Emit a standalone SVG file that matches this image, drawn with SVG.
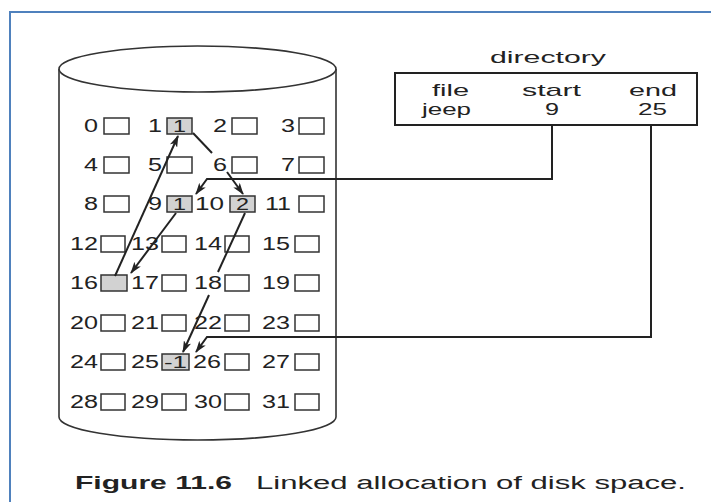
<svg xmlns="http://www.w3.org/2000/svg" width="711" height="502" viewBox="0 0 711 502">
<defs>
<marker id="ah" viewBox="0 0 12 8" refX="11" refY="4" markerWidth="12" markerHeight="8" markerUnits="userSpaceOnUse" orient="auto">
<path d="M0,0 L12,4 L0,8 L3,4 Z" fill="#222"/>
</marker>
<style>
.t{font-family:"Liberation Sans",Arial,sans-serif;fill:#222;}
.n{font-size:18px;}
.d{font-size:17px;}
.b{fill:#fff;stroke:#333;stroke-width:1.5;}
.s{fill:#d2d2d2;stroke:#333;stroke-width:1.5;}
.c{fill:none;stroke:#222;stroke-width:2;}
.cyl{fill:#fff;stroke:#333;stroke-width:1.6;}
</style>
</defs>
<rect x="0" y="0" width="711" height="502" fill="#fff"/>
<rect x="10" y="12" width="720" height="520" fill="none" stroke="#4f81bd" stroke-width="2"/>

<g id="disk">
<path class="cyl" d="M59,69 V417 A138.5,23 0 0 0 336,417 V69"/>
<ellipse class="cyl" cx="197.5" cy="69" rx="138.5" ry="23"/>
</g>

<g id="blocks">
<!-- row 0 -->
<g id="b0"><text class="t n" x="84" y="132" textLength="14" lengthAdjust="spacingAndGlyphs">0</text><rect class="b" x="104" y="118" width="25" height="16"/></g>
<g id="b1"><text class="t n" x="148" y="132" textLength="14" lengthAdjust="spacingAndGlyphs">1</text><rect class="s" x="167" y="118" width="25" height="16"/><text class="t d" x="173" y="132" textLength="13" lengthAdjust="spacingAndGlyphs">1</text></g>
<g id="b2"><text class="t n" x="213" y="132" textLength="14" lengthAdjust="spacingAndGlyphs">2</text><rect class="b" x="232" y="118" width="25" height="16"/></g>
<g id="b3"><text class="t n" x="281" y="132" textLength="14" lengthAdjust="spacingAndGlyphs">3</text><rect class="b" x="299" y="118" width="25" height="16"/></g>
<!-- row 1 -->
<g id="b4"><text class="t n" x="84" y="171" textLength="14" lengthAdjust="spacingAndGlyphs">4</text><rect class="b" x="104" y="157" width="25" height="16"/></g>
<g id="b5"><text class="t n" x="148" y="171" textLength="14" lengthAdjust="spacingAndGlyphs">5</text><rect class="b" x="167" y="157" width="25" height="16"/></g>
<g id="b6"><text class="t n" x="213" y="171" textLength="14" lengthAdjust="spacingAndGlyphs">6</text><rect class="b" x="232" y="157" width="25" height="16"/></g>
<g id="b7"><text class="t n" x="281" y="171" textLength="14" lengthAdjust="spacingAndGlyphs">7</text><rect class="b" x="299" y="157" width="25" height="16"/></g>
<!-- row 2 -->
<g id="b8"><text class="t n" x="84" y="210" textLength="14" lengthAdjust="spacingAndGlyphs">8</text><rect class="b" x="104" y="196" width="25" height="16"/></g>
<g id="b9"><text class="t n" x="148" y="210" textLength="14" lengthAdjust="spacingAndGlyphs">9</text><rect class="s" x="167" y="196" width="25" height="16"/><text class="t d" x="173" y="210" textLength="13" lengthAdjust="spacingAndGlyphs">1</text></g>
<g id="b10"><text class="t n" x="195" y="210" textLength="29" lengthAdjust="spacingAndGlyphs">10</text><rect class="s" x="230" y="196" width="25" height="16"/><text class="t d" x="236" y="210" textLength="13" lengthAdjust="spacingAndGlyphs">2</text></g>
<g id="b11"><text class="t n" x="265" y="210" textLength="26" lengthAdjust="spacingAndGlyphs">11</text><rect class="b" x="299" y="196" width="25" height="16"/></g>
<!-- row 3 -->
<g id="b12"><text class="t n" x="70" y="250" textLength="28" lengthAdjust="spacingAndGlyphs">12</text><rect class="b" x="101" y="236" width="24" height="16"/></g>
<g id="b13"><text class="t n" x="131" y="250" textLength="28" lengthAdjust="spacingAndGlyphs">13</text><rect class="b" x="162" y="236" width="24" height="16"/></g>
<g id="b14"><text class="t n" x="194" y="250" textLength="28" lengthAdjust="spacingAndGlyphs">14</text><rect class="b" x="225" y="236" width="24" height="16"/></g>
<g id="b15"><text class="t n" x="262" y="250" textLength="28" lengthAdjust="spacingAndGlyphs">15</text><rect class="b" x="295" y="236" width="24" height="16"/></g>
<!-- row 4 -->
<g id="b16"><text class="t n" x="70" y="289" textLength="28" lengthAdjust="spacingAndGlyphs">16</text><rect class="s" x="101" y="275" width="26" height="16"/></g>
<g id="b17"><text class="t n" x="131" y="289" textLength="28" lengthAdjust="spacingAndGlyphs">17</text><rect class="b" x="162" y="275" width="24" height="16"/></g>
<g id="b18"><text class="t n" x="194" y="289" textLength="28" lengthAdjust="spacingAndGlyphs">18</text><rect class="b" x="225" y="275" width="24" height="16"/></g>
<g id="b19"><text class="t n" x="262" y="289" textLength="28" lengthAdjust="spacingAndGlyphs">19</text><rect class="b" x="295" y="275" width="24" height="16"/></g>
<!-- row 5 -->
<g id="b20"><text class="t n" x="70" y="329" textLength="28" lengthAdjust="spacingAndGlyphs">20</text><rect class="b" x="101" y="315" width="24" height="16"/></g>
<g id="b21"><text class="t n" x="131" y="329" textLength="28" lengthAdjust="spacingAndGlyphs">21</text><rect class="b" x="162" y="315" width="24" height="16"/></g>
<g id="b22"><text class="t n" x="194" y="329" textLength="28" lengthAdjust="spacingAndGlyphs">22</text><rect class="b" x="225" y="315" width="24" height="16"/></g>
<g id="b23"><text class="t n" x="262" y="329" textLength="28" lengthAdjust="spacingAndGlyphs">23</text><rect class="b" x="295" y="315" width="24" height="16"/></g>
<!-- row 6 -->
<g id="b24"><text class="t n" x="70" y="368" textLength="28" lengthAdjust="spacingAndGlyphs">24</text><rect class="b" x="101" y="354" width="24" height="16"/></g>
<g id="b25"><text class="t n" x="131" y="368" textLength="28" lengthAdjust="spacingAndGlyphs">25</text><rect class="s" x="162" y="354" width="27" height="16"/><text class="t d" x="164" y="368" textLength="23" lengthAdjust="spacingAndGlyphs">-1</text></g>
<g id="b26"><text class="t n" x="193" y="368" textLength="28" lengthAdjust="spacingAndGlyphs">26</text><rect class="b" x="225" y="354" width="24" height="16"/></g>
<g id="b27"><text class="t n" x="262" y="368" textLength="28" lengthAdjust="spacingAndGlyphs">27</text><rect class="b" x="295" y="354" width="24" height="16"/></g>
<!-- row 7 -->
<g id="b28"><text class="t n" x="70" y="408" textLength="28" lengthAdjust="spacingAndGlyphs">28</text><rect class="b" x="101" y="394" width="24" height="16"/></g>
<g id="b29"><text class="t n" x="131" y="408" textLength="28" lengthAdjust="spacingAndGlyphs">29</text><rect class="b" x="162" y="394" width="24" height="16"/></g>
<g id="b30"><text class="t n" x="194" y="408" textLength="28" lengthAdjust="spacingAndGlyphs">30</text><rect class="b" x="225" y="394" width="24" height="16"/></g>
<g id="b31"><text class="t n" x="262" y="408" textLength="28" lengthAdjust="spacingAndGlyphs">31</text><rect class="b" x="295" y="394" width="24" height="16"/></g>
</g>

<g id="directory">
<text class="t d" x="490" y="63" textLength="116" lengthAdjust="spacingAndGlyphs">directory</text>
<rect x="395" y="73" width="302" height="52" fill="#fff" stroke="#222" stroke-width="2"/>
<text class="t d" x="432" y="96" textLength="37" lengthAdjust="spacingAndGlyphs">file</text>
<text class="t d" x="522" y="96" textLength="59" lengthAdjust="spacingAndGlyphs">start</text>
<text class="t d" x="629" y="96" textLength="48" lengthAdjust="spacingAndGlyphs">end</text>
<text class="t d" x="422" y="115" textLength="49" lengthAdjust="spacingAndGlyphs">jeep</text>
<text class="t d" x="545" y="115" textLength="14" lengthAdjust="spacingAndGlyphs">9</text>
<text class="t d" x="638" y="115" textLength="29" lengthAdjust="spacingAndGlyphs">25</text>
</g>

<g id="connectors">
<path class="c" d="M552,125 V179 H207 L196,194" marker-end="url(#ah)"/>
<path class="c" d="M651,125 V337 H207 L196,352" marker-end="url(#ah)"/>
<path class="c" d="M176,213 L131,273" marker-end="url(#ah)"/>
<path class="c" d="M115,276 L178,136" marker-end="url(#ah)"/>
<path class="c" d="M193,133 L212,153"/>
<path class="c" d="M227,172 L243,194" marker-end="url(#ah)"/>
<path class="c" d="M245,213 L218,272"/>
<path class="c" d="M209,295 L183,352" marker-end="url(#ah)"/>
</g>

<g id="caption">
<text class="t" x="75" y="489" font-size="18" font-weight="bold" textLength="157" lengthAdjust="spacingAndGlyphs">Figure 11.6</text>
<text class="t" x="256" y="489" font-size="18" textLength="430" lengthAdjust="spacingAndGlyphs">Linked allocation of disk space.</text>
</g>
</svg>
